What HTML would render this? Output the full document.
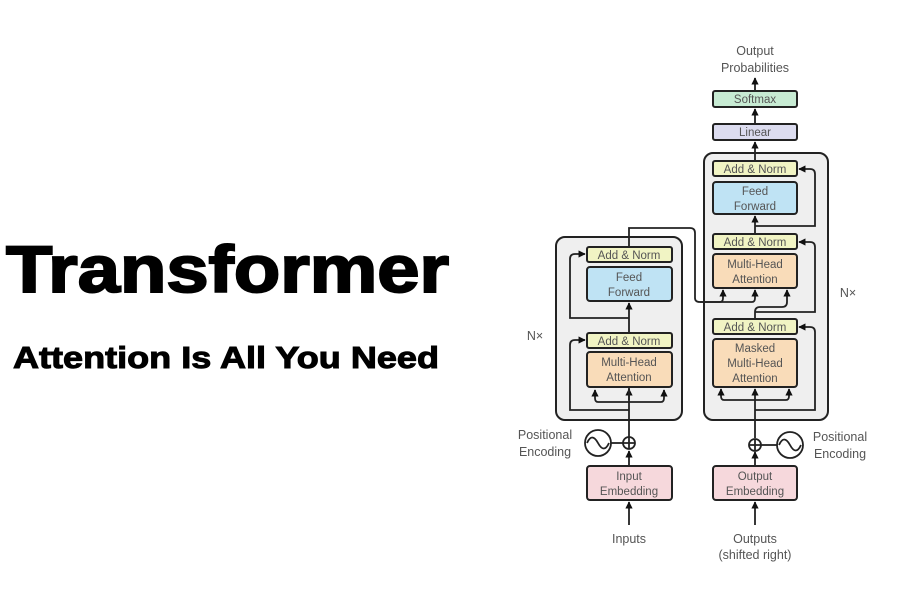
<!DOCTYPE html>
<html><head><meta charset="utf-8"><style>
html,body{margin:0;padding:0;background:#fff;width:900px;height:600px;overflow:hidden}
svg text{font-family:"Liberation Sans",sans-serif}
</style></head><body>
<svg width="900" height="600" viewBox="0 0 900 600" xmlns="http://www.w3.org/2000/svg">
<defs>
<marker id="a" viewBox="0 0 10 10" refX="9" refY="5" markerWidth="4" markerHeight="4" orient="auto"><path d="M0,0L10,5L0,10z" fill="#111"/></marker>
</defs>
<rect width="900" height="600" fill="#fff"/>
<text x="6" y="292" font-size="66" font-weight="bold" textLength="443" lengthAdjust="spacingAndGlyphs" fill="#000" stroke="#000" stroke-width="2">Transformer</text>
<text x="13" y="368" font-size="31" font-weight="bold" textLength="426" lengthAdjust="spacingAndGlyphs" fill="#000" stroke="#000" stroke-width="1">Attention Is All You Need</text>

<g stroke="#222" stroke-width="2" fill="none">
<rect x="556" y="237" width="126" height="183" rx="9" fill="#efefef"/>
<rect x="704" y="153" width="124" height="267" rx="9" fill="#efefef"/>
</g>

<g stroke="#222" stroke-width="1.8" fill="none">
<path d="M629 525 L629 502" marker-end="url(#a)"/>
<path d="M629 466 L629 451" marker-end="url(#a)"/>
<path d="M629 437 L629 389" marker-end="url(#a)"/>
<path d="M629 348 L629 303" marker-end="url(#a)"/>
<path d="M629 400 L629 352"/>
<path d="M629 402 L598 402 Q595 402 595 398 L595 390" marker-end="url(#a)"/>
<path d="M629 402 L661 402 Q664 402 664 398 L664 390" marker-end="url(#a)"/>
<path d="M629 410 L570 410 L570 345 Q570 340 575 340 L585 340" marker-end="url(#a)"/>
<path d="M629 318 L570 318 L570 259 Q570 254 575 254 L585 254" marker-end="url(#a)"/>
<path d="M629 247 L629 228 L690 228 Q695 228 695 233 L695 298 Q695 302 700 302 L720 302 Q723 302 723 298 L723 290" marker-end="url(#a)"/>
<path d="M700 302 L752 302 Q755 302 755 298 L755 290" marker-end="url(#a)"/>
<path d="M755 525 L755 502" marker-end="url(#a)"/>
<path d="M755 466 L755 452" marker-end="url(#a)"/>
<path d="M755 438 L755 389" marker-end="url(#a)"/>
<path d="M755 400 L724 400 Q721 400 721 396 L721 389" marker-end="url(#a)"/>
<path d="M755 400 L786 400 Q789 400 789 396 L789 389" marker-end="url(#a)"/>
<path d="M755 410 L815 410 L815 332 Q815 327 810 327 L799 327" marker-end="url(#a)"/>
<path d="M755 319 L755 312 Q755 307 760 307 L782 307 Q787 307 787 302 L787 290" marker-end="url(#a)"/>
<path d="M755 312 L815 312 L815 247 Q815 242 810 242 L799 242" marker-end="url(#a)"/>
<path d="M755 234 L755 216" marker-end="url(#a)"/>
<path d="M755 226 L815 226 L815 174 Q815 169 810 169 L799 169" marker-end="url(#a)"/>
<path d="M755 161 L755 142" marker-end="url(#a)"/>
<path d="M755 124 L755 109" marker-end="url(#a)"/>
<path d="M755 91 L755 78" marker-end="url(#a)"/>
<circle cx="598" cy="443" r="13"/>
<path d="M587 443 Q592 432 598 443 Q604 454 609 443"/>
<path d="M611 443 L623 443"/>
<circle cx="629" cy="443" r="6" fill="#fff"/>
<path d="M623 443h12M629 437v12"/>
<circle cx="790" cy="445" r="13"/>
<path d="M779 445 Q784 434 790 445 Q796 456 801 445"/>
<path d="M761 445 L777 445"/>
<circle cx="755" cy="445" r="6" fill="#fff"/>
<path d="M749 445h12M755 439v12"/>
</g>

<g stroke="#222" stroke-width="2">
<rect x="587" y="247" width="85" height="15" rx="2" fill="#f1f4c4"/>
<rect x="587" y="267" width="85" height="34" rx="3" fill="#bfe3f4"/>
<rect x="587" y="333" width="85" height="15" rx="2" fill="#f1f4c4"/>
<rect x="587" y="352" width="85" height="35" rx="3" fill="#f9dcb9"/>
<rect x="587" y="466" width="85" height="34" rx="3" fill="#f6d8dc"/>
<rect x="713" y="161" width="84" height="15" rx="2" fill="#f1f4c4"/>
<rect x="713" y="182" width="84" height="32" rx="3" fill="#bfe3f4"/>
<rect x="713" y="234" width="84" height="15" rx="2" fill="#f1f4c4"/>
<rect x="713" y="254" width="84" height="34" rx="3" fill="#f9dcb9"/>
<rect x="713" y="319" width="84" height="15" rx="2" fill="#f1f4c4"/>
<rect x="713" y="339" width="84" height="48" rx="3" fill="#f9dcb9"/>
<rect x="713" y="124" width="84" height="16" rx="2" fill="#dcdcef"/>
<rect x="713" y="91" width="84" height="16" rx="2" fill="#c7ebd3"/>
<rect x="713" y="466" width="84" height="34" rx="3" fill="#f6d8dc"/>
</g>

<g font-size="11.5" fill="#555" text-anchor="middle">
<text x="629" y="259">Add &amp; Norm</text>
<text x="629" y="281">Feed</text><text x="629" y="296">Forward</text>
<text x="629" y="345">Add &amp; Norm</text>
<text x="629" y="366">Multi-Head</text><text x="629" y="381">Attention</text>
<text x="629" y="480">Input</text><text x="629" y="495">Embedding</text>
<text x="755" y="173">Add &amp; Norm</text>
<text x="755" y="195">Feed</text><text x="755" y="210">Forward</text>
<text x="755" y="246">Add &amp; Norm</text>
<text x="755" y="268">Multi-Head</text><text x="755" y="283">Attention</text>
<text x="755" y="331">Add &amp; Norm</text>
<text x="755" y="352">Masked</text><text x="755" y="367">Multi-Head</text><text x="755" y="382">Attention</text>
<text x="755" y="136">Linear</text>
<text x="755" y="103">Softmax</text>
<text x="755" y="480">Output</text><text x="755" y="495">Embedding</text>
<text x="755" y="55" font-size="12.5">Output</text>
<text x="755" y="72" font-size="12.5">Probabilities</text>
<text x="629" y="543" font-size="12.5">Inputs</text>
<text x="755" y="543" font-size="12.5">Outputs</text>
<text x="755" y="559" font-size="12.5">(shifted right)</text>
<text x="545" y="439" font-size="12.5">Positional</text>
<text x="545" y="456" font-size="12.5">Encoding</text>
<text x="840" y="441" font-size="12.5">Positional</text>
<text x="840" y="458" font-size="12.5">Encoding</text>
<text x="535" y="340" font-size="12.5">N×</text>
<text x="848" y="297" font-size="12.5">N×</text>
</g>
</svg>
</body></html>
